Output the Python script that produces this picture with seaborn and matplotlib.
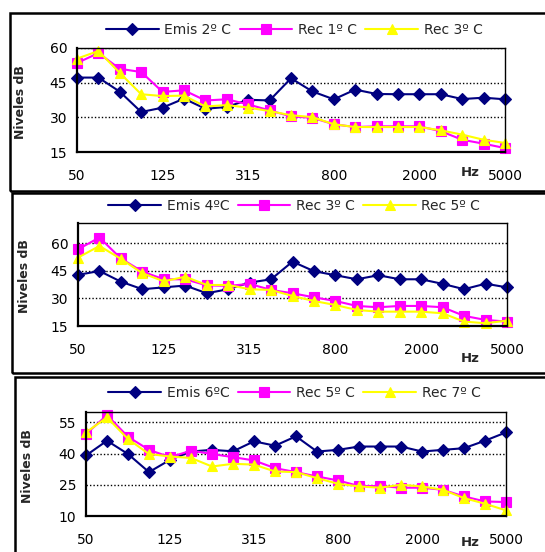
import numpy as np
import pandas as pd
import matplotlib
matplotlib.use("Agg")
import matplotlib.pyplot as plt
import seaborn as sns
from matplotlib.patches import Rectangle

# 1/3 octave bands, 50 Hz .. 5000 Hz
bands = [50, 63, 80, 100, 125, 160, 200, 250, 315, 400, 500, 630,
         800, 1000, 1250, 1600, 2000, 2500, 3150, 4000, 5000]

# panel 1
emis_2 = [47.2, 47.2, 41.1, 32.3, 34.2, 38.1, 33.7, 34.5, 37.6, 37.3, 46.9,
          41.2, 37.8, 42.0, 40.1, 40.0, 40.0, 40.0, 37.9, 38.5, 37.8]
rec_1 = [53.5, 57.8, 51.0, 49.6, 41.0, 41.7, 37.3, 37.8, 35.6, 33.0, 30.4,
         29.8, 27.0, 25.8, 26.1, 26.1, 26.1, 24.0, 20.3, 18.6, 16.7]
rec_3 = [55.4, 58.7, 49.2, 40.0, 39.2, 39.4, 34.7, 35.3, 34.2, 32.7, 30.9,
         30.1, 27.0, 25.8, 25.8, 25.8, 25.8, 24.4, 22.5, 20.3, 18.9]

# panel 2
emis_4 = [42.8, 44.9, 39.1, 35.0, 36.0, 37.0, 32.8, 35.0, 38.6, 40.4, 50.0,
          44.8, 42.6, 40.4, 42.6, 40.4, 40.4, 37.9, 35.0, 38.0, 36.0]
rec_3b = [56.7, 63.1, 51.7, 44.6, 40.4, 40.4, 37.1, 36.8, 37.9, 34.6, 32.8,
          30.6, 28.6, 25.9, 25.2, 25.9, 25.9, 25.2, 20.5, 18.3, 17.4]
rec_5 = [52.2, 58.5, 51.5, 43.7, 39.3, 41.8, 37.3, 37.3, 35.0, 34.6, 31.3,
         28.6, 26.4, 23.7, 22.8, 22.8, 22.8, 21.9, 17.4, 16.5, 17.9]

# panel 3
emis_6 = [39.1, 46.2, 39.8, 31.1, 37.0, 41.0, 41.8, 41.1, 45.9, 43.8, 48.3,
          41.0, 41.8, 43.4, 43.4, 43.4, 41.0, 41.8, 42.6, 46.2, 50.2]
rec_5b = [49.4, 58.5, 48.1, 41.8, 38.3, 41.4, 39.8, 38.3, 36.7, 33.0, 31.1,
          29.0, 27.1, 24.4, 24.4, 23.6, 23.6, 22.6, 19.4, 17.0, 16.7]
rec_7 = [50.2, 57.4, 47.0, 39.8, 38.6, 37.9, 33.8, 35.1, 34.7, 31.4, 31.1,
         28.2, 25.5, 24.2, 23.6, 25.0, 24.2, 22.6, 18.6, 15.9, 12.7]

panels = [
    {"series": [("Emis 2º C", emis_2), ("Rec 1º C", rec_1), ("Rec 3º C", rec_3)],
     "ylim": (15, 60), "yticks": [15, 30, 45, 60],
     "ax": (77, 505, 48, 152), "box": (10, 13, 191), "hz": 172,
     "ylab": (21, 102), "leg": 30},
    {"series": [("Emis 4ºC", emis_4), ("Rec 3º C", rec_3b), ("Rec 5º C", rec_5)],
     "ylim": (15, 71), "yticks": [15, 30, 45, 60],
     "ax": (78, 507, 223, 326), "box": (12, 193, 373), "hz": 358,
     "ylab": (25, 276), "leg": 206},
    {"series": [("Emis 6ºC", emis_6), ("Rec 5º C", rec_5b), ("Rec 7º C", rec_7)],
     "ylim": (10, 60), "yticks": [10, 25, 40, 55],
     "ax": (86, 506, 412, 516), "box": (15, 377, 560), "hz": 542,
     "ylab": (28, 466), "leg": 393},
]

colors = ["#000080", "#FF00FF", "#FFFF00"]
markers = ["D", "s", "^"]
msizes = [5.8, 6.5, 7.5]

sns.set_style("white")
plt.rcParams["font.family"] = ["DejaVu Sans"]

W, H = 545, 552
fig = plt.figure(figsize=(W / 100, H / 100), dpi=100)

label_pos = list(range(0, len(bands), 4))

for p in panels:
    bx, btop, bbot = p["box"]
    fig.patches.append(Rectangle((bx / W, 1 - bbot / H), (W + 20 - bx) / W,
                                 (bbot - btop) / H, transform=fig.transFigure,
                                 fill=False, edgecolor="black", linewidth=1.8))
    l, r, t, b = p["ax"]
    ax = fig.add_axes([l / W, 1 - b / H, (r - l) / W, (b - t) / H])

    x = np.arange(len(bands))
    for (name, vals), c, m, ms in zip(p["series"], colors, markers, msizes):
        df = pd.DataFrame({"x": x, "y": vals})
        sns.lineplot(data=df, x="x", y="y", ax=ax, color=c, marker=m,
                     markersize=ms, markeredgecolor=c, markeredgewidth=0.8,
                     linewidth=1.5, label=name, clip_on=False)

    ax.set_xlim(0, len(bands) - 1)
    ax.set_ylim(*p["ylim"])
    ax.set_yticks(p["yticks"])
    ax.set_xticks(np.arange(0, len(bands), 2))
    ax.set_xticklabels([str(bands[i]) if i in label_pos else ""
                        for i in range(0, len(bands), 2)])
    ax.set_xlabel("")
    ax.set_ylabel("")
    ax.tick_params(axis="both", direction="out", length=4, width=1.2,
                   labelsize=10, colors="black", pad=3)
    ax.tick_params(axis="x", pad=8)
    for yv in p["yticks"][1:]:
        ax.axhline(yv, color="black", linestyle=(0, (1, 1.5)), linewidth=1, zorder=0)
    for s in ["left", "bottom"]:
        ax.spines[s].set_linewidth(1.6)
        ax.spines[s].set_color("black")
    for s in ["top", "right"]:
        ax.spines[s].set_linewidth(1)
        ax.spines[s].set_color("black")

    ax.legend(loc="center", bbox_to_anchor=(0.54, 1 - p["leg"] / H),
              bbox_transform=fig.transFigure, ncol=3, frameon=False,
              handlelength=3.8, columnspacing=0.6, handletextpad=0.4,
              fontsize=10, borderaxespad=0)

    fig.text(470 / W, 1 - p["hz"] / H, "Hz", fontsize=9.5, fontweight="bold",
             ha="center", va="center")
    yx, yy = p["ylab"]
    fig.text(yx / W, 1 - yy / H, "Niveles dB", fontsize=9, fontweight="bold",
             rotation=90, ha="center", va="center")

fig.savefig("out.png", dpi=100)
